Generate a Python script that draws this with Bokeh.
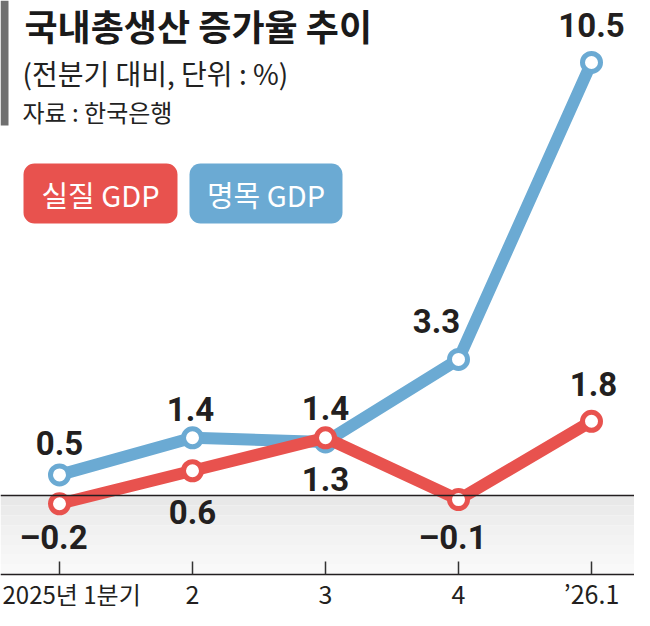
from bokeh.plotting import figure
from bokeh.models import Label, BoxAnnotation, Span, FixedTicker
from bokeh.embed import file_html
from bokeh.resources import INLINE
from bokeh.core.properties import value

# ---- data ----
quarters = [1, 2, 3, 4, 5]
tick_labels = ["2025년 1분기", "2", "3", "4", "’26.1"]
real_gdp = [-0.2, 0.6, 1.4, -0.1, 1.8]
nominal_gdp = [0.5, 1.4, 1.3, 3.3, 10.5]
series_names = ["실질 GDP", "명목 GDP"]
title_text = "국내총생산 증가율 추이"
subtitle_text = "(전분기 대비, 단위 : %)"
source_text = "자료 : 한국은행"

# ---- style / layout ----
RED = "#E8524E"
BLUE = "#6BAAD3"
INK = "#231F20"
KR = "Noto Sans CJK KR"
NUM = "Roboto"

FW, FH = 634, 610
PX_PER_UNIT = 41.24
ZERO_Y = 495      # px from top
AXIS_Y = 574      # px from top
X0, DX = 59, 133

y_end = ZERO_Y / PX_PER_UNIT
y_start = -(FH - ZERO_Y) / PX_PER_UNIT
axis_at = -(AXIS_Y - ZERO_Y) / PX_PER_UNIT
x_start = 1 - X0 / DX
x_end = 1 + (FW - X0) / DX

# label offsets in px (positive = down)
real_dx = [-6, 0, 0, -6, 2]
real_dy = [34, 41, -30, 38, -37]
nom_dx = [0, -2, 0, -22, 0]
nom_dy = [-32, -29, 37, -38, -37]


def fmt(v):
    return f"{v:.1f}".replace("-", "–")


def sy(py):
    return FH - py


p = figure(frame_width=FW, frame_height=FH, x_range=(x_start, x_end),
           y_range=(y_start, y_end), output_backend="svg",
           toolbar_location=None, min_border=0, y_axis_location=None)
p.grid.visible = False
p.outline_line_color = None
p.background_fill_color = "white"
p.border_fill_color = "white"

# shaded band below zero
shade = ["#e8e8e8", "#ebebeb", "#eeeeee", "#f1f1f1", "#f3f3f3", "#f5f5f5", "#f7f7f7", "#f9f9f9"]
n = len(shade)
for i, c in enumerate(shade):
    p.add_layout(BoxAnnotation(top=axis_at * i / n, bottom=axis_at * (i + 1) / n,
                               fill_color=c, fill_alpha=1, line_color=None, level="image"))

p.add_layout(Span(location=0, dimension="width", line_color=INK, line_width=1.5))

# axis (drawn inside the frame at a fixed location)
ax = p.xaxis[0]
ax.level = "overlay"
ax.fixed_location = axis_at
ax.ticker = FixedTicker(ticks=quarters)
ax.major_label_overrides = {q: ("" if i == 0 else t) for i, (q, t) in enumerate(zip(quarters, tick_labels))}
ax.major_label_text_font = KR
ax.major_label_text_font_size = "25px"
ax.major_label_text_color = INK
ax.major_label_standoff = 0
ax.axis_line_color = INK
ax.axis_line_width = 1.5
ax.major_tick_in = 13
ax.major_tick_out = 0
ax.major_tick_line_color = "#333333"
ax.major_tick_line_width = 1.5
ax.minor_tick_line_color = None

p.add_layout(Label(x=2, y=sy(593), x_units="screen", y_units="screen", text=tick_labels[0],
                   text_font=KR, text_font_size="24px", text_color=INK,
                   text_align="left", text_baseline="middle"))

# series
p.line(quarters, nominal_gdp, line_color=BLUE, line_width=12, line_join="round")
p.scatter(quarters, nominal_gdp, size=18, fill_color="white", line_color=BLUE, line_width=5)
p.line(quarters, real_gdp, line_color=RED, line_width=12, line_join="round")
p.scatter(quarters, real_gdp, size=18, fill_color="white", line_color=RED, line_width=5)

p.text(x=quarters, y=nominal_gdp, text=[fmt(v) for v in nominal_gdp], x_offset=nom_dx, y_offset=nom_dy,
       text_align="center", text_baseline="middle", text_font=value(NUM), text_font_style="bold",
       text_font_size="33px", text_color=INK)
p.text(x=quarters, y=real_gdp, text=[fmt(v) for v in real_gdp], x_offset=real_dx, y_offset=real_dy,
       text_align="center", text_baseline="middle", text_font=value(NUM), text_font_style="bold",
       text_font_size="33px", text_color=INK)

# header
p.add_layout(BoxAnnotation(left=0, right=8, top=sy(0), bottom=sy(125),
                           left_units="screen", right_units="screen", top_units="screen", bottom_units="screen",
                           fill_color="#6f6f6f", fill_alpha=1, line_color=None))
p.add_layout(Label(x=24, y=sy(24), x_units="screen", y_units="screen", text=title_text,
                   text_font=KR, text_font_style="bold", text_font_size="36px", text_color="#1a1a1a",
                   text_baseline="middle"))
p.add_layout(Label(x=22, y=sy(72), x_units="screen", y_units="screen", text=subtitle_text,
                   text_font=KR, text_font_size="28px", text_color="#222222", text_baseline="middle"))
p.add_layout(Label(x=22, y=sy(111), x_units="screen", y_units="screen", text=source_text,
                   text_font=KR, text_font_size="24px", text_color="#222222", text_baseline="middle"))

# legend chips
chips = [(23, 177, RED), (189, 342, BLUE)]
for (l, r, c), name in zip(chips, series_names):
    p.add_layout(BoxAnnotation(left=l, right=r, top=sy(163), bottom=sy(223),
                               left_units="screen", right_units="screen", top_units="screen", bottom_units="screen",
                               fill_color=c, fill_alpha=1, line_color=None, border_radius=11))
    p.add_layout(Label(x=(l + r) / 2, y=sy(193), x_units="screen", y_units="screen", text=name,
                       text_font=KR, text_font_size="29px", text_color="white",
                       text_align="center", text_baseline="middle"))

open("out.html", "w").write(file_html(p, INLINE))
